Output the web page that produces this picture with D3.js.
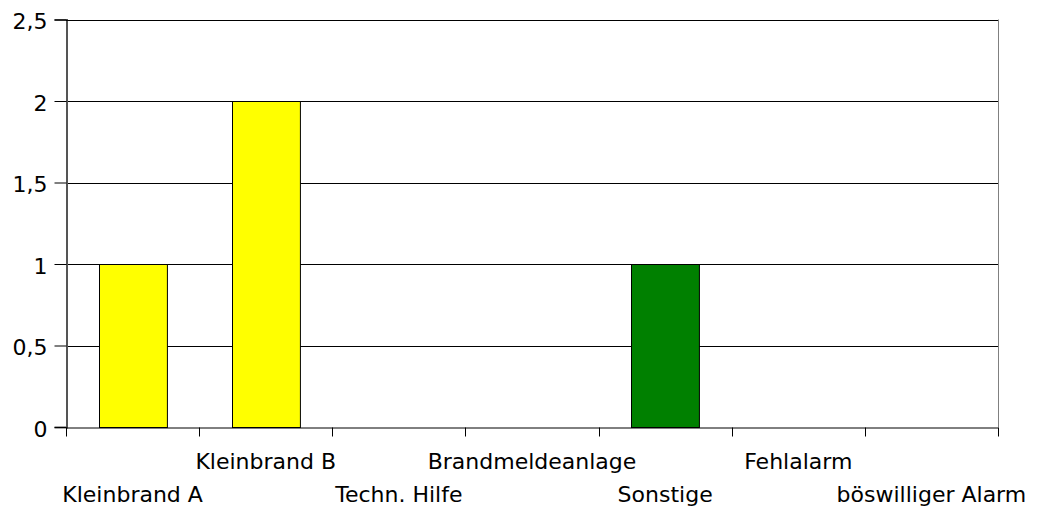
<!DOCTYPE html>
<html>
<head>
<meta charset="utf-8">
<style>
body { margin: 0; background: #fff; }
text { font-family: "DejaVu Sans", sans-serif; font-size: 22px; fill: #000; }
</style>
</head>
<body>
<script src="https://cdn.jsdelivr.net/npm/d3@7"></script>
<script>

// data
var categories = ["Kleinbrand A", "Kleinbrand B", "Techn. Hilfe", "Brandmeldeanlage", "Sonstige", "Fehlalarm", "böswilliger Alarm"];
var values = [1, 2, 0, 0, 1, 0, 0];
var yTicks = [0, 0.5, 1, 1.5, 2, 2.5];
var barColors = ["#ffff00", "#ffff00", "#ffff00", "#ffff00", "#008000", "#008000", "#008000"];

var width = 1039, height = 510;
var margin = {top: 19.5, right: 41, bottom: 83, left: 66};

var svg = d3.select("body").append("svg")
    .attr("width", width)
    .attr("height", height);

var x = d3.scaleBand()
    .domain(categories)
    .range([margin.left, width - margin.right])
    .paddingInner(0)
    .paddingOuter(0);

var y = d3.scaleLinear()
    .domain([0, 2.5])
    .range([height - margin.bottom, margin.top]);

var color = d3.scaleOrdinal().domain(categories).range(barColors);
var fmt = function(d) { return String(d).replace(".", ","); };

var data = categories.map(function(c, i) { return {cat: c, value: values[i]}; });

// gridlines
svg.append("g")
  .selectAll("line")
  .data(yTicks.filter(function(d) { return d > 0; }))
  .enter().append("line")
    .attr("x1", margin.left)
    .attr("x2", width - margin.right)
    .attr("y1", function(d) { return Math.round(y(d)) + 0.5; })
    .attr("y2", function(d) { return Math.round(y(d)) + 0.5; })
    .style("stroke", "#000")
    .style("stroke-width", 1);

// right border
svg.append("line")
    .attr("x1", width - margin.right + 0.5)
    .attr("x2", width - margin.right + 0.5)
    .attr("y1", y(2.5))
    .attr("y2", y(0))
    .style("stroke", "#808080");

// bars
var bw = x.bandwidth() * 0.51;
svg.append("g")
  .selectAll("rect")
  .data(data.filter(function(d) { return d.value > 0; }))
  .enter().append("rect")
    .attr("x", function(d) { return Math.round(x(d.cat) + (x.bandwidth() - bw) / 2) + 0.5; })
    .attr("y", function(d) { return Math.round(y(d.value)) + 0.5; })
    .attr("width", bw)
    .attr("height", function(d) { return Math.round(y(0)) - Math.round(y(d.value)); })
    .style("fill", function(d) { return color(d.cat); })
    .style("stroke", "#000")
    .style("stroke-width", 1);

// y axis
var yAxis = svg.append("g")
    .attr("transform", "translate(" + (margin.left + 0.5) + ",0)")
    .call(d3.axisLeft(y).tickValues(yTicks).tickSize(12).tickFormat(fmt));
yAxis.select(".domain").style("stroke", "#555").style("stroke-width", 2);
yAxis.selectAll(".tick line").style("stroke", "#000");
yAxis.selectAll(".tick text")
    .attr("x", -19)
    .attr("dy", "0.42em")
    .style("font-family", "DejaVu Sans, sans-serif")
    .style("font-size", "22px");

// x axis
var xAxis = svg.append("g")
    .attr("transform", "translate(0," + (Math.round(y(0)) + 0.5) + ")")
    .call(d3.axisBottom(x).tickSize(0).tickSizeOuter(0).tickFormat(""));
xAxis.select(".domain").style("stroke", "#000");

// tick marks between categories
var bounds = categories.map(function(c) { return x(c); }).concat([x.range()[1]]);
xAxis.append("g")
  .selectAll("line")
  .data(bounds)
  .enter().append("line")
    .attr("x1", function(d) { return Math.round(d) + 0.5; })
    .attr("x2", function(d) { return Math.round(d) + 0.5; })
    .attr("y1", 0)
    .attr("y2", 9)
    .style("stroke", "#000");

// staggered category labels
svg.append("g")
  .selectAll("text")
  .data(categories)
  .enter().append("text")
    .attr("x", function(d) { return x(d) + x.bandwidth() / 2; })
    .attr("y", function(d, i) { return i % 2 === 0 ? 502 : 469; })
    .attr("text-anchor", "middle")
    .text(function(d) { return d; });

// top border
svg.append("line")
    .attr("x1", margin.left)
    .attr("x2", width - margin.right)
    .attr("y1", Math.round(y(2.5)) + 0.5)
    .attr("y2", Math.round(y(2.5)) + 0.5)
    .style("stroke", "#000");

</script>
</body>
</html>
